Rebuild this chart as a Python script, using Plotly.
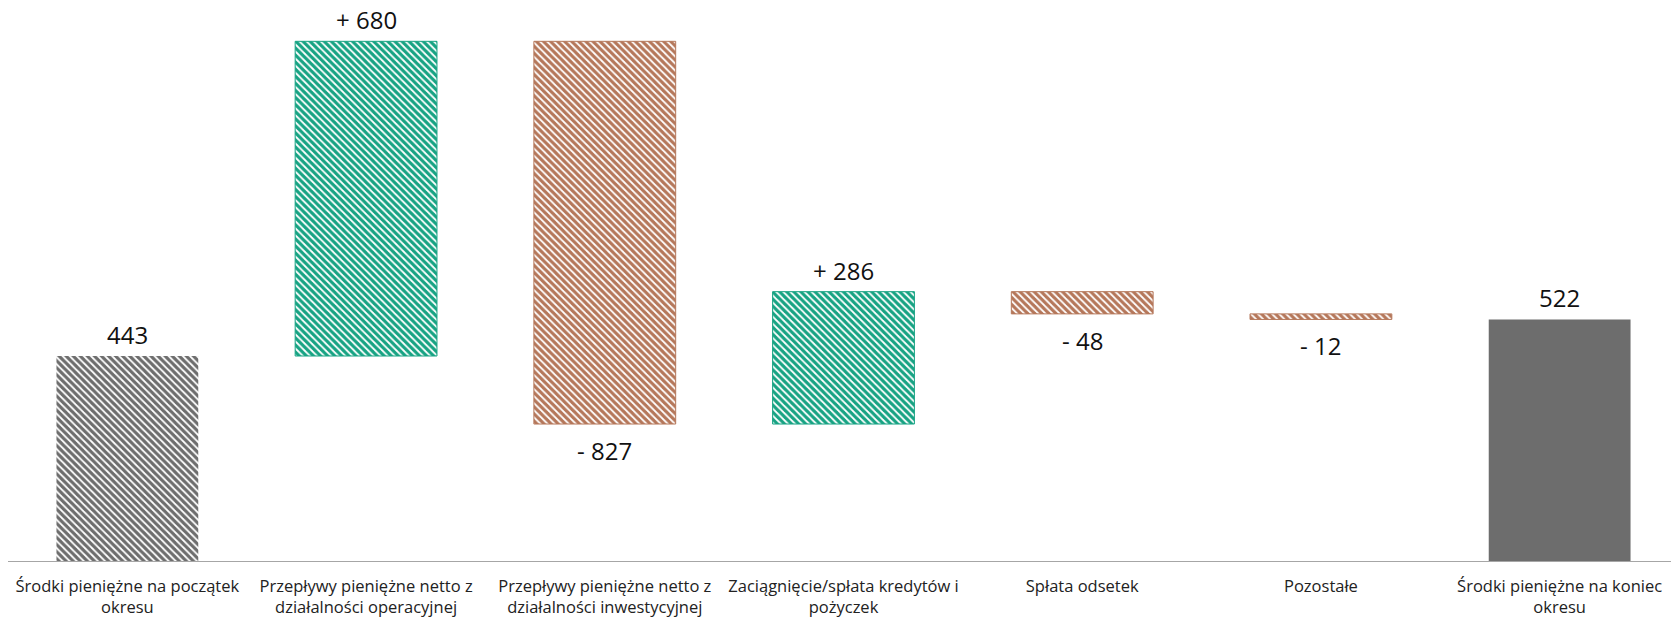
import plotly.graph_objects as go

categories = [
    "Środki pieniężne na początek<br>okresu",
    "Przepływy pieniężne netto z<br>działalności operacyjnej",
    "Przepływy pieniężne netto z<br>działalności inwestycyjnej",
    "Zaciągnięcie/spłata kredytów i<br>pożyczek",
    "Spłata odsetek",
    "Pozostałe",
    "Środki pieniężne na koniec<br>okresu",
]
start_value = 443
changes = [680, -827, 286, -48, -12]
end_value = 522

GREEN = "#17a383"
BROWN = "#b5775a"
GRAY = "#6d6d6d"

# build bar bases and heights from data
bases = [0]
heights = [start_value]
running = start_value
for c in changes:
    bases.append(running)
    heights.append(c)
    running += c
bases.append(0)
heights.append(end_value)

fill_colors = [GRAY] + [GREEN if c > 0 else BROWN for c in changes] + [GRAY]
shapes = ["\\"] * 6 + [""]
line_colors = ["rgba(0,0,0,0)"] + [GREEN if c > 0 else BROWN for c in changes] + ["rgba(0,0,0,0)"]

fig = go.Figure()
fig.add_trace(go.Bar(
    x=categories,
    y=heights,
    base=bases,
    marker=dict(
        color=fill_colors,
        line=dict(color=line_colors, width=1),
        pattern=dict(shape=shapes, fgcolor=fill_colors, bgcolor="white", size=5, solidity=0.65, fillmode="replace"),
    ),
    hoverinfo="skip",
))

labels = [f"{start_value}"] + [("+ " if c > 0 else "- ") + f"{abs(c)}" for c in changes] + [f"{end_value}"]
for i, (cat, b, h, lab) in enumerate(zip(categories, bases, heights, labels)):
    if h >= 0:
        fig.add_annotation(x=cat, y=b + h, text=lab, showarrow=False, yanchor="bottom", yshift=3,
                           font=dict(size=24, color="#111111"))
    else:
        fig.add_annotation(x=cat, y=b + h, text=lab, showarrow=False, yanchor="top", yshift=-8,
                           font=dict(size=24, color="#111111"))

fig.update_layout(
    width=1671, height=609,
    margin=dict(l=0, r=0, t=0, b=56),
    plot_bgcolor="white", paper_bgcolor="white",
    bargap=0.406,
    showlegend=False,
    font=dict(family="Open Sans", color="#222222"),
)
fig.update_xaxes(showline=True, linecolor="#a6a6a6", linewidth=1, ticks="", showgrid=False,
                 tickfont=dict(size=16.5, color="#222222"), ticklabelstandoff=10, automargin=False)
fig.update_yaxes(range=[0, 1195], visible=False, showgrid=False, automargin=False)

fig.write_html("out.html")
